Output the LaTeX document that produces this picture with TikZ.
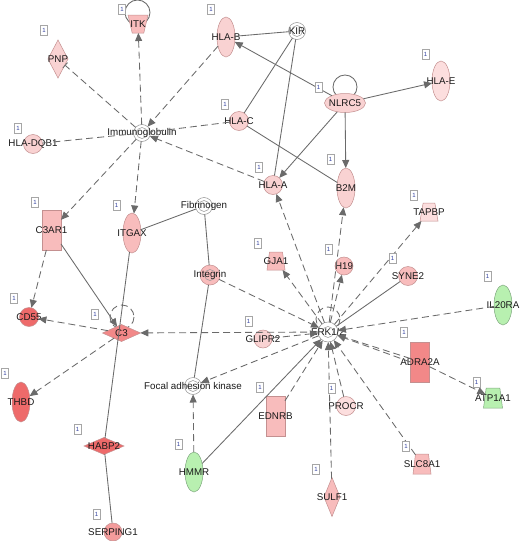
\documentclass[tikz,border=0pt]{standalone}
\usepackage{fontspec}
\setmainfont{Liberation Sans}
\usetikzlibrary{shapes.geometric,arrows.meta}
\definecolor{edgec}{HTML}{6A6A6A}
\definecolor{txtc}{HTML}{1A1A1A}
\definecolor{pkA}{HTML}{FCDEDE}
\definecolor{pkB}{HTML}{F9D2D2}
\definecolor{pkC}{HTML}{F8BCBC}
\definecolor{pkD}{HTML}{F49C9C}
\definecolor{rdA}{HTML}{F28888}
\definecolor{rdB}{HTML}{EE6A6A}
\definecolor{grn}{HTML}{B8F0B0}
\definecolor{pkbd}{HTML}{C49090}
\definecolor{grbd}{HTML}{80A880}
\definecolor{numc}{HTML}{2F3F9F}
\tikzset{
  base/.style={draw=pkbd, line width=0.5pt, inner sep=0pt, outer sep=0pt},
  vell/.style={base, ellipse, minimum width=18pt, minimum height=40pt},
  hell/.style={base, ellipse, minimum width=41pt, minimum height=19pt},
  circ/.style={base, circle, minimum size=19pt},
  rectn/.style={base, rectangle, minimum width=19pt, minimum height=40pt},
  vdia/.style={base, diamond, minimum width=17pt, minimum height=39pt},
  hdia/.style={base, diamond, minimum width=38pt, minimum height=17pt},
  trap/.style={base, trapezium, inner sep=1pt, trapezium angle=79, trapezium stretches=true, minimum width=18pt, minimum height=18pt},
  dcirc/.style={base, circle, draw=gray!85, fill=white, minimum size=17pt,
    path picture={\draw[gray!85, line width=0.5pt] (path picture bounding box.center) circle (5.5pt);}},
  every label/.style={font=\fontsize{9.8}{10}\selectfont, text=txtc, inner sep=0pt},
  num/.style={draw=gray!70, fill=white, line width=0.4pt, inner sep=0pt, minimum width=7pt, minimum height=10pt, font=\fontsize{6}{6}\selectfont, text=numc},
  sol/.style={draw=edgec, line width=0.85pt},
  dsh/.style={sol, dash pattern=on 7pt off 4pt},
  arr/.style={-{Triangle[length=8pt,width=7pt]}},
  inh/.style={-{Bar[width=7pt]}},
}
\begin{document}
\begin{tikzpicture}[x=1pt,y=-1pt]
\path[use as bounding box, fill=white] (0,0) rectangle (520,541);
% self loops
\draw[sol] (137.5,12.5) circle (12.5);
\draw[sol] (345,87) circle (12);
\draw[dsh] (122,317) circle (12);
\draw[dsh] (328,319) circle (12);
% nodes
\node[trap, trapezium angle=70, shape border rotate=180, fill=pkC, minimum width=20pt, minimum height=18pt, label=center:ITK] (itk) at (138,24) {};
\node[vdia, fill=pkB, minimum width=20pt, minimum height=38pt, label=center:PNP] (pnp) at (58,59) {};
\node[vell, fill=pkB, label=center:HLA-B] (hlab) at (226,37) {};
\node[dcirc, label=center:KIR] (kir) at (297,31) {};
\node[hell, fill=pkB, label=center:NLRC5] (nlrc5) at (345,103) {};
\node[vell, fill=pkA, label=center:HLA-E] (hlae) at (441,81) {};
\node[dcirc, label=center:Immunoglobulin] (ig) at (142,133) {};
\node[circ, fill=pkB, label=center:HLA-DQB1] (dqb1) at (33,144) {};
\node[circ, fill=pkB, label=center:HLA-C] (hlac) at (239,121) {};
\node[circ, fill=pkB, label=center:HLA-A] (hlaa) at (273,185) {};
\node[vell, fill=pkB, label=center:B2M] (b2m) at (346,188) {};
\node[rectn, fill=pkC, label=center:C3AR1] (c3ar1) at (51.5,230) {};
\node[vell, fill=pkC, label=center:ITGAX] (itgax) at (132,233) {};
\node[dcirc, label=center:Fibrinogen] (fib) at (204,206) {};
\node[dcirc, fill=pkC, draw=pkbd, minimum size=20pt, label=center:Integrin] (integ) at (210,275) {};
\node[trap, fill=pkC, label=center:GJA1] (gja1) at (276,261) {};
\node[circ, fill=pkC, minimum size=18pt, label=center:H19] (h19) at (344,266) {};
\node[trap, trapezium angle=75, fill=pkA, label=center:TAPBP] (tapbp) at (429,212) {};
\node[circ, fill=pkC, label=center:SYNE2] (syne2) at (408,276) {};
\node[vell, fill=grn, draw=grbd, label=center:IL20RA] (il20ra) at (503,305) {};
\node[dcirc, minimum size=20pt, label=center:ERK1/2] (erk) at (328,332) {};
\node[circ, fill=pkB, minimum size=18pt, label=center:GLIPR2] (glipr2) at (263,339) {};
\node[hdia, fill=rdA, label=center:C3] (c3) at (121.5,333) {};
\node[circ, fill=rdB, label=center:CD55] (cd55) at (29,317) {};
\node[vell, fill=rdB, label=center:THBD] (thbd) at (21,402) {};
\node[hdia, fill=rdB, minimum width=40pt, label=center:HABP2] (habp2) at (104,446) {};
\node[circ, fill=pkD, minimum size=18pt, label=center:SERPING1] (serping1) at (113,532) {};
\node[dcirc, label=center:Focal adhesion kinase] (fak) at (193,386) {};
\node[vell, fill=grn, draw=grbd, label=center:HMMR] (hmmr) at (194,472) {};
\node[rectn, fill=pkC, label=center:EDNRB] (ednrb) at (275.5,416) {};
\node[circ, fill=pkA, label=center:PROCR] (procr) at (346,406) {};
\node[vdia, fill=pkC, minimum width=16pt, label=center:SULF1] (sulf1) at (332,497) {};
\node[trap, fill=pkC, minimum height=20pt, label=center:SLC8A1] (slc8a1) at (422,464) {};
\node[rectn, fill=rdA, label=center:ADRA2A] (adra2a) at (420,362) {};
\node[trap, fill=grn, draw=grbd, minimum width=19pt, minimum height=20pt, label=center:ATP1A1] (atp1a1) at (493,398) {};
% edges: immunoglobulin cluster
\draw[dsh,arr] (ig) -- (itk);
\draw[dsh,inh] (ig) -- (pnp);
\draw[dsh,arr] (hlab) -- (ig);
\draw[dsh] (hlac) -- (ig);
\draw[dsh] (dqb1) -- (ig);
\draw[dsh,arr] (hlaa) -- (ig);
\draw[dsh,arr] (ig) -- (c3ar1);
\draw[dsh,arr] (ig) -- (itgax);
% HLA cluster
\draw[sol] (kir) -- (hlab);
\draw[sol,arr] (nlrc5) -- (hlab);
\draw[sol] (kir) -- (hlac);
\draw[sol] (kir) -- (hlaa);
\draw[sol,arr] (nlrc5) -- (hlae);
\draw[sol,arr] (nlrc5) -- (hlaa);
\draw[sol,arr] (nlrc5) -- (b2m);
\draw[sol] (hlac) -- (b2m);
% left cluster
\draw[sol] (fib) -- (itgax);
\draw[sol] (fib) -- (integ);
\draw[sol] (integ) -- (fak);
\draw[sol] (itgax) -- (habp2);
\draw[sol] (habp2) -- (serping1);
\draw[dsh,arr] (c3ar1) -- (cd55);
\draw[sol,arr] (c3ar1) -- (c3);
\draw[dsh,arr] (c3) -- (cd55);
\draw[dsh,arr] (c3) -- (thbd);
% ERK cluster
\draw[dsh,arr] (erk) -- (hlaa);
\draw[dsh,arr] (erk) -- (b2m);
\draw[dsh,arr] (erk) -- (h19);
\draw[dsh,arr] (erk) -- (tapbp);
\draw[dsh,arr] (erk) -- (gja1);
\draw[sol] (syne2) -- (erk);
\draw[dsh,arr] (il20ra) -- (erk);
\draw[dsh,arr] (integ) -- (erk);
\draw[dsh,arr] (glipr2) -- (erk);
\draw[dsh,arr] (erk) -- (c3);
\draw[dsh,arr] (erk) -- (fak);
\draw[sol,arr] (hmmr) -- (erk);
\draw[dsh,arr] (hmmr) -- (fak);
\draw[dsh,arr] (ednrb) -- (erk);
\draw[dsh,arr] (sulf1) -- (erk);
\draw[dsh,arr] (procr) -- (erk);
\draw[dsh,arr] (slc8a1) -- (erk);
\draw[dsh,arr] (adra2a.west) -- (erk);
\draw[dsh,arr] (adra2a.160) -- (erk);
\draw[dsh,arr] (adra2a) -- (atp1a1);
% number boxes
\node[num] (n1) at (122,9) {1};
\node[num] (n2) at (44,30.5) {1};
\node[num] (n3) at (211,9.5) {1};
\node[num] (n4) at (225,104) {1};
\node[num] (n5) at (18,128) {1};
\node[num] (n6) at (259,167.5) {1};
\node[num] (n7) at (318.5,87) {1};
\node[num] (n8) at (425.5,54) {1};
\node[num] (n9) at (330.5,159.5) {1};
\node[num] (n10) at (35,202.5) {1};
\node[num] (n11) at (116.5,205.5) {1};
\node[num] (n12) at (14,298.5) {1};
\node[num] (n13) at (95,314.5) {1};
\node[num] (n14) at (248.5,321.5) {1};
\node[num] (n15) at (258,243) {1};
\node[num] (n16) at (328.5,249) {1};
\node[num] (n17) at (414,195.5) {1};
\node[num] (n18) at (392.5,258.5) {1};
\node[num] (n19) at (487.5,276.5) {1};
\node[num] (n20) at (404,332.5) {1};
\node[num] (n21) at (5,373.5) {1};
\node[num] (n22) at (77.5,429.5) {1};
\node[num] (n23) at (96.5,514.5) {1};
\node[num] (n24) at (178.5,444) {1};
\node[num] (n25) at (260,387.5) {1};
\node[num] (n26) at (331.5,388) {1};
\node[num] (n27) at (316,469.5) {1};
\node[num] (n28) at (406,446.5) {1};
\node[num] (n29) at (476.5,382) {1};
\end{tikzpicture}
\end{document}
